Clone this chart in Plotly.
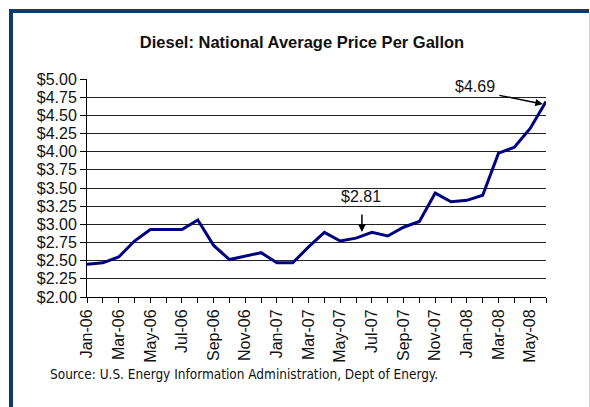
import plotly.graph_objects as go

months = ["Jan-06", "Feb-06", "Mar-06", "Apr-06", "May-06", "Jun-06", "Jul-06", "Aug-06",
          "Sep-06", "Oct-06", "Nov-06", "Dec-06", "Jan-07", "Feb-07", "Mar-07", "Apr-07",
          "May-07", "Jun-07", "Jul-07", "Aug-07", "Sep-07", "Oct-07", "Nov-07", "Dec-07",
          "Jan-08", "Feb-08", "Mar-08", "Apr-08", "May-08", "Jun-08"]
prices = [2.45, 2.47, 2.55, 2.77, 2.93, 2.93, 2.93, 3.06, 2.71, 2.515, 2.56, 2.61,
          2.47, 2.47, 2.69, 2.89, 2.77, 2.81, 2.89, 2.84, 2.96, 3.04, 3.43, 3.31,
          3.33, 3.40, 3.98, 4.06, 4.32, 4.69]
y_ticks = [2.00, 2.25, 2.50, 2.75, 3.00, 3.25, 3.50, 3.75, 4.00, 4.25, 4.50, 4.75, 5.00]
y_labels = ["$%.2f" % v for v in y_ticks]

xi = list(range(len(months)))
tick_text = [m if i % 2 == 0 else "" for i, m in enumerate(months)]

W, H = 590, 407
L, R, T, B = 87, 44, 79, 110
PW, PH = W - L - R, H - T - B

def px(x):
    return (x - L) / PW

def py(y):
    return (H - B - y) / PH

FONT = "Liberation Sans, Arial, sans-serif"

fig = go.Figure()
fig.add_trace(go.Scatter(x=xi, y=prices, mode="lines",
                         line=dict(color="#000080", width=3), hoverinfo="skip",
                         showlegend=False))

fig.update_layout(
    width=W, height=H,
    margin=dict(l=L, r=R, t=T, b=B),
    paper_bgcolor="white", plot_bgcolor="white",
    font=dict(family=FONT, size=15, color="#111"),
    title=dict(text="<b>Diesel: National Average Price Per Gallon</b>",
               x=302 / W, xanchor="center", y=1 - 42 / H, yanchor="middle",
               font=dict(family=FONT, size=16.5, color="#111")),
    xaxis=dict(range=[0, len(months) - 1], tickmode="array", tickvals=xi, ticktext=tick_text,
               tickangle=-90, ticks="outside", ticklen=5, tickcolor="black",
               showline=True, linecolor="black", linewidth=1, showgrid=False, zeroline=False,
               tickfont=dict(size=16)),
    yaxis=dict(range=[2, 5], tickmode="array", tickvals=y_ticks, ticktext=y_labels,
               ticks="outside", ticklen=6, tickcolor="black",
               showline=True, linecolor="black", linewidth=1,
               showgrid=True, gridcolor="#222", gridwidth=1, zeroline=False,
               tickfont=dict(size=16)),
)

# Annotations
fig.add_annotation(x=24.5, y=4.89, text="$4.69", showarrow=False,
                   font=dict(size=16, color="#111"))
fig.add_annotation(x=28.8, y=4.655, ax=-45, ay=-9, text="", showarrow=True,
                   arrowhead=2, arrowsize=1, arrowwidth=1.5, arrowcolor="black", standoff=0)
fig.add_annotation(x=17.34, y=3.387, text="$2.81", showarrow=False,
                   font=dict(size=16, color="#111"))
fig.add_annotation(x=17.37, y=2.895, ax=0, ay=-19, text="", showarrow=True,
                   arrowhead=2, arrowsize=1, arrowwidth=1.5, arrowcolor="black", standoff=0)

fig.add_annotation(xref="paper", yref="paper", x=px(48), y=py(374), xanchor="left",
                   yanchor="middle", showarrow=False,
                   text="Source: U.S. Energy Information Administration, Dept of Energy.",
                   font=dict(family="DejaVu Sans Condensed, Liberation Sans, sans-serif",
                             size=13.5, color="#111"))

# Frame
navy = "#0b3a6e"
fig.add_shape(type="rect", xref="paper", yref="paper", x0=px(9), x1=px(13), y0=py(9), y1=py(H + 5),
              fillcolor=navy, line_width=0, layer="above")
fig.add_shape(type="rect", xref="paper", yref="paper", x0=px(9), x1=px(589), y0=py(9), y1=py(13),
              fillcolor=navy, line_width=0, layer="above")
fig.add_shape(type="line", xref="paper", yref="paper", x0=px(589.5), x1=px(589.5), y0=py(13), y1=py(H + 5),
              line=dict(color="#d8d8d8", width=1), layer="above")

fig.write_html("out.html")
